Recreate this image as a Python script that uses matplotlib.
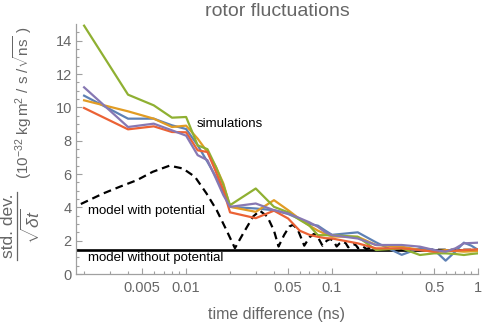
import matplotlib
matplotlib.use("Agg")
import matplotlib.pyplot as plt
from matplotlib.ticker import FixedLocator, NullFormatter
from matplotlib.lines import Line2D

plt.rcParams['font.family'] = ['Liberation Sans', 'DejaVu Sans']
plt.rcParams['mathtext.fontset'] = 'custom'
plt.rcParams['mathtext.rm'] = 'Liberation Sans'
plt.rcParams['mathtext.it'] = 'Liberation Sans:italic'

# time differences (ns) of the simulation curves
t_sim = [0.002, 0.004, 0.006, 0.008, 0.01, 0.012, 0.014, 0.016, 0.018, 0.02,
         0.03, 0.04, 0.05, 0.06, 0.07, 0.08, 0.09, 0.1, 0.15, 0.2,
         0.3, 0.4, 0.5, 0.6, 0.7, 0.8, 0.9, 1.0]

sim_blue = [10.7, 9.32, 9.32, 8.92, 8.7, 7.72, 6.73, 5.83, 4.93, 4.03,
            3.93, 3.83, 3.6, 3.3, 3.0, 2.9, 2.6, 2.35, 2.5, 1.9,
            1.15, 1.55, 1.45, 0.8, 1.35, 1.88, 1.7, 1.45]
sim_orange = [10.42, 9.76, 9.32, 8.82, 8.9, 8.12, 7.32, 6.43, 5.43, 4.03,
              3.73, 4.43, 3.83, 3.3, 2.9, 2.6, 2.4, 2.25, 2.23, 1.74,
              1.64, 1.44, 1.34, 1.44, 1.38, 1.34, 1.36, 1.38]
sim_green = [14.9, 10.76, 10.12, 9.38, 9.42, 7.72, 7.49, 6.43, 5.33, 4.13,
             5.13, 4.03, 3.7, 3.25, 2.9, 2.33, 2.33, 2.33, 2.23, 1.44,
             1.54, 1.14, 1.24, 1.24, 1.2, 1.14, 1.2, 1.24]
sim_red = [9.96, 8.68, 8.86, 8.52, 8.5, 7.42, 7.32, 6.13, 5.03, 3.7,
           3.35, 3.8, 3.33, 2.6, 2.35, 2.23, 2.15, 2.13, 1.84, 1.54,
           1.54, 1.44, 1.34, 1.38, 1.4, 1.44, 1.46, 1.48]
sim_purple = [11.2, 8.82, 9.02, 8.62, 8.3, 7.13, 6.83, 5.73, 4.73, 4.03,
              4.23, 3.83, 3.63, 3.35, 3.1, 2.83, 2.5, 2.33, 2.13, 1.74,
              1.74, 1.64, 1.44, 1.34, 1.54, 1.84, 1.86, 1.88]

# model with potential
t_model = [0.0019, 0.0027, 0.0035, 0.0046, 0.0059, 0.0077, 0.0095, 0.0115,
           0.0138, 0.0162, 0.0189, 0.0216, 0.0246, 0.0288, 0.032, 0.036,
           0.040, 0.043, 0.047, 0.051, 0.054, 0.058, 0.0645, 0.070, 0.075,
           0.080, 0.086, 0.092, 0.097, 0.102, 0.1075, 0.113, 0.118, 0.124,
           0.129, 0.135, 0.140, 0.146, 0.1505, 0.161, 0.172, 0.183, 0.1935,
           0.25, 1.0]
model_pot = [4.2, 4.83, 5.23, 5.63, 6.13, 6.5, 6.33, 5.83,
             4.83, 3.83, 2.63, 1.55, 2.43, 3.45, 3.8, 3.45,
             2.6, 1.65, 2.35, 2.85, 2.95, 2.7, 1.7, 2.2, 2.4,
             2.2, 1.7, 2.0, 2.1, 2.0, 1.65, 1.85, 1.95, 1.85,
             1.6, 1.75, 1.8, 1.72, 1.55, 1.68, 1.5, 1.58, 1.47,
             1.46, 1.45]

# model without potential
t_free = [0.00176, 1.0]
model_free = [1.43, 1.43]

xticks = [0.005, 0.01, 0.05, 0.1, 0.5, 1]
xticklabels = ['0.005', '0.01', '0.05', '0.1', '0.5', '1']
yticks = [0, 2, 4, 6, 8, 10, 12, 14]

colors = ['#5E81B5', '#E19C24', '#8FB032', '#EB6235', '#8778B3']
gray_text = '#666666'
gray_axis = '#a0a0a0'

fig = plt.figure(figsize=(4.85, 3.26), dpi=100)
ax = fig.add_axes([76 / 485, 52 / 326, 402 / 485, 250 / 326])

ax.plot(t_free, model_free, color='black', lw=1.9)
ax.plot(t_model, model_pot, color='black', lw=1.6, linestyle=(0, (3.5, 2.2)))
for ys, c in zip([sim_blue, sim_orange, sim_green, sim_red, sim_purple], colors):
    ax.plot(t_sim, ys, color=c, lw=1.6)

ax.set_xscale('log')
ax.set_xlim(0.00176, 1.0)
ax.set_ylim(0, 15)

ax.xaxis.set_major_locator(FixedLocator(xticks))
ax.set_xticklabels(xticklabels)
minor_x = [0.002, 0.003, 0.004, 0.006, 0.007, 0.008, 0.009,
           0.02, 0.03, 0.04, 0.06, 0.07, 0.08, 0.09,
           0.2, 0.3, 0.4, 0.6, 0.7, 0.8, 0.9]
ax.xaxis.set_minor_locator(FixedLocator(minor_x))
ax.xaxis.set_minor_formatter(NullFormatter())
ax.set_yticks(yticks)
ax.yaxis.set_minor_locator(FixedLocator([v / 2 for v in range(0, 30)]))

ax.tick_params(which='both', direction='in', color=gray_axis, width=0.8,
               labelcolor=gray_text, labelsize=10.5)
ax.tick_params(which='major', length=4)
ax.tick_params(which='minor', length=2.5)
ax.tick_params(axis='x', pad=5)
ax.tick_params(axis='y', pad=3)

for s in ['top', 'right']:
    ax.spines[s].set_visible(False)
for s in ['left', 'bottom']:
    ax.spines[s].set_color(gray_axis)
    ax.spines[s].set_linewidth(0.9)

# annotations
fig.text(197 / 485, 1 - 124 / 326, 'simulations', fontsize=9.5, va='center')
fig.text(88 / 485, 1 - 211 / 326, 'model with potential', fontsize=9.5, va='center')
fig.text(88 / 485, 1 - 258 / 326, 'model without potential', fontsize=9.5, va='center')

# title and axis labels
fig.text(277 / 485, 1 - 12 / 326, 'rotor fluctuations', fontsize=14,
         color=gray_text, ha='center', va='center')
fig.text(277 / 485, 1 - 314 / 326, 'time difference (ns)', fontsize=11.5,
         color=gray_text, ha='center', va='center')

fig.text(9 / 485, 1 - 226 / 326, 'std. dev.', fontsize=12.5, color=gray_text,
         rotation=90, ha='center', va='center')
fig.add_artist(Line2D([17 / 485, 17 / 485], [1 - 192 / 326, 1 - 260 / 326],
                      color=gray_text, lw=0.9, transform=fig.transFigure))
fig.text(31 / 485, 1 - 226 / 326, r'$\sqrt{\delta t}$', fontsize=12.5,
         color=gray_text, rotation=90, ha='center', va='center')
fig.text(23 / 485, 1 - 103 / 326,
         r'$(10^{-32}\ \mathrm{kg\,m^2}\ /\ \mathrm{s}\ /\sqrt{\mathrm{ns}}\ )$',
         fontsize=11, color=gray_text, rotation=90, ha='center', va='center')

fig.savefig('out.png', dpi=100)
